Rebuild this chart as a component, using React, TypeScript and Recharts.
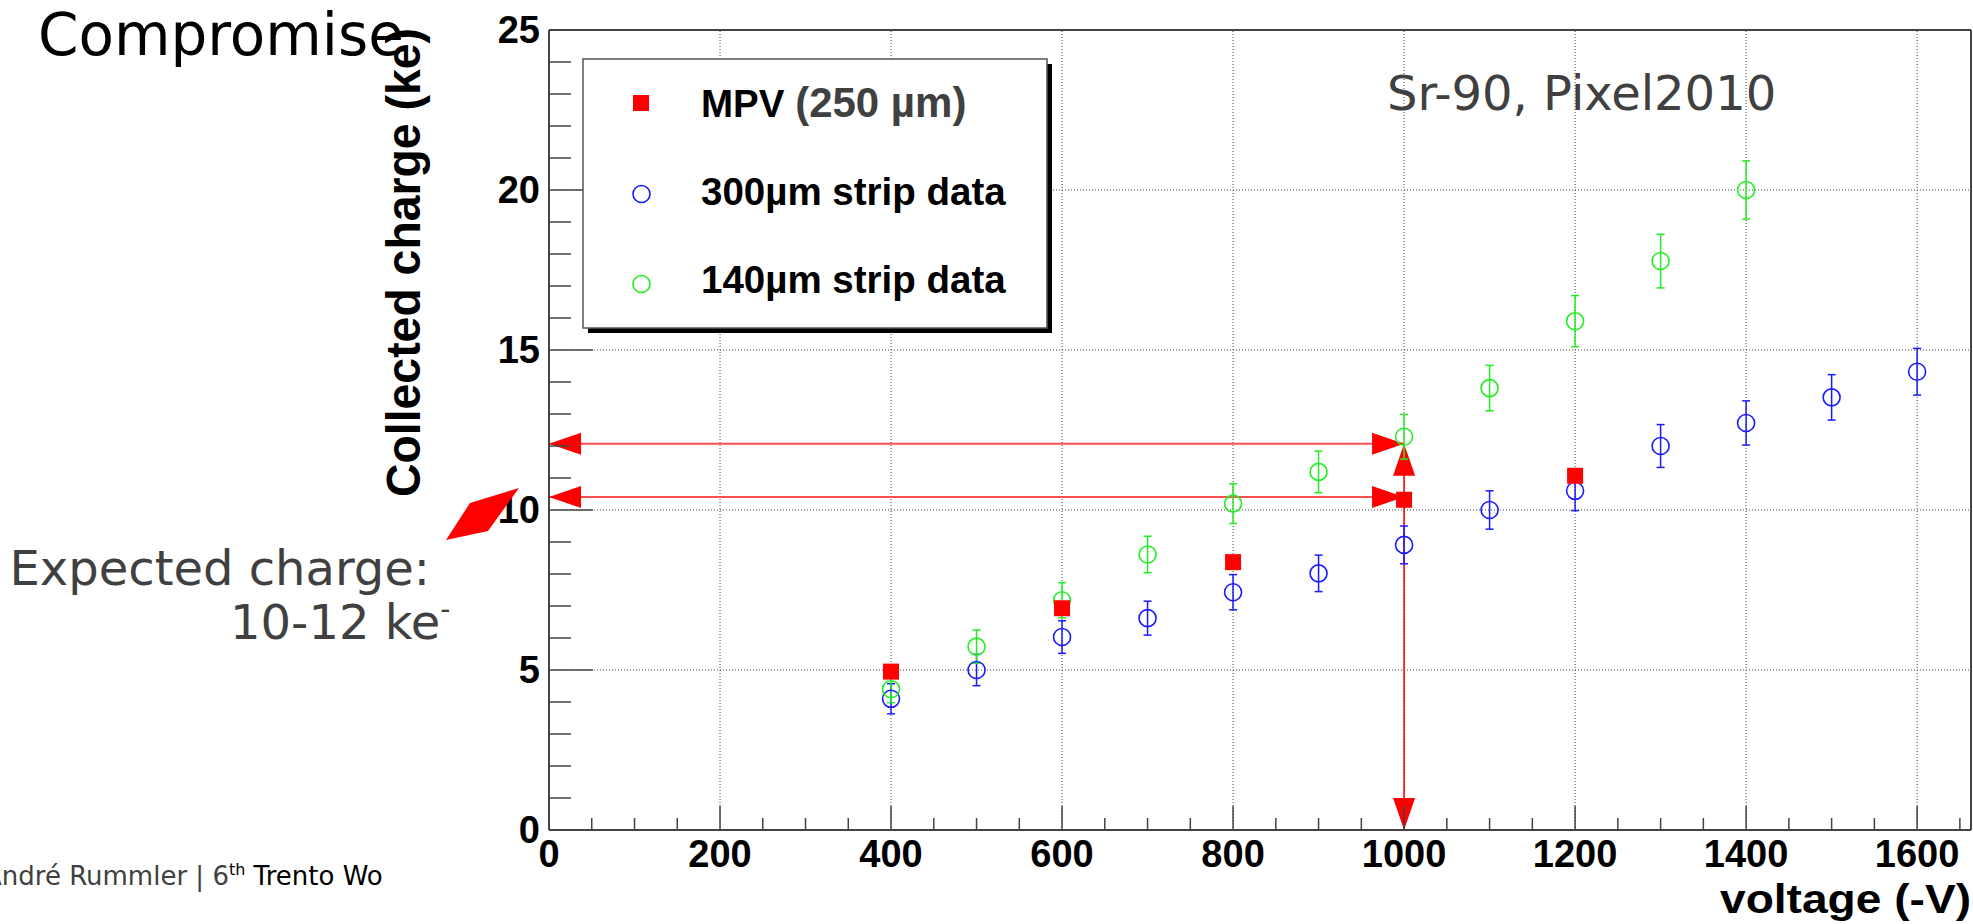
import React from "react";
import {
  ScatterChart,
  Scatter,
  XAxis,
  YAxis,
  ErrorBar,
  ReferenceLine,
} from "recharts";

// MPV from the 250 um sensor
const MPV_VOLTAGE = [400, 600, 800, 1000, 1200];
const MPV_CHARGE = [4.95, 6.93, 8.37, 10.32, 11.07];

// 300 um strip data
const STRIP300_VOLTAGE = [400, 500, 600, 700, 800, 900, 1000, 1100, 1200, 1300, 1400, 1500, 1600];
const STRIP300_CHARGE = [4.1, 5.0, 6.03, 6.62, 7.43, 8.02, 8.91, 10.0, 10.6, 12.0, 12.72, 13.52, 14.32];
const STRIP300_ERROR = [0.47, 0.49, 0.51, 0.53, 0.55, 0.57, 0.59, 0.6, 0.62, 0.67, 0.69, 0.71, 0.73];

// 140 um strip data
const STRIP140_VOLTAGE = [400, 500, 600, 700, 800, 900, 1000, 1100, 1200, 1300, 1400];
const STRIP140_CHARGE = [4.4, 5.73, 7.18, 8.61, 10.2, 11.19, 12.29, 13.81, 15.9, 17.78, 20.0];
const STRIP140_ERROR = [0.42, 0.52, 0.55, 0.57, 0.62, 0.65, 0.7, 0.71, 0.8, 0.84, 0.91];

// axes
const X_MAX = 1663;
const Y_MAX = 25;
const X_TICKS = [
  0, 50, 100, 150, 200, 250, 300, 350, 400, 450, 500, 550, 600, 650, 700, 750, 800,
  850, 900, 950, 1000, 1050, 1100, 1150, 1200, 1250, 1300, 1350, 1400, 1450, 1500,
  1550, 1600, 1650,
];
const X_LABELS = [0, 200, 400, 600, 800, 1000, 1200, 1400, 1600];
const Y_TICKS = [
  0, 1, 2, 3, 4, 5, 6, 7, 8, 9, 10, 11, 12, 13, 14, 15, 16, 17, 18, 19, 20, 21, 22, 23, 24, 25,
];
const Y_LABELS = [0, 5, 10, 15, 20, 25];
const X_GRID = [200, 400, 600, 800, 1000, 1200, 1400, 1600];
const Y_GRID = [5, 10, 15, 20];

// expected charge band arrows
const EXPECTED_LOW = 10.41;
const EXPECTED_HIGH = 12.07;
const OPERATING_VOLTAGE = 1000;

const mpvData = MPV_VOLTAGE.map((v, i) => ({ v, q: MPV_CHARGE[i] }));
const strip300Data = STRIP300_VOLTAGE.map((v, i) => ({ v, q: STRIP300_CHARGE[i], e: STRIP300_ERROR[i] }));
const strip140Data = STRIP140_VOLTAGE.map((v, i) => ({ v, q: STRIP140_CHARGE[i], e: STRIP140_ERROR[i] }));

const HELV = "'Liberation Sans', Arial, Helvetica, sans-serif";
const DEJAVU = "'DejaVu Sans', Verdana, sans-serif";
const RED = "#ff0000";
const BLUE = "#1a1aff";
const GREEN = "#22ee22";
const AXIS = "#444";

function XTick(props: any) {
  const { x, y, payload } = props;
  const major = X_LABELS.includes(payload.value);
  return (
    <g>
      <line x1={x} x2={x} y1={y} y2={y - (major ? 24 : 12)} stroke={AXIS} strokeWidth={1.5} />
      {major && (
        <text x={x} y={y + 37} textAnchor="middle" fontFamily={HELV} fontWeight="bold" fontSize={38} fill="#000">
          {payload.value}
        </text>
      )}
    </g>
  );
}

function YTick(props: any) {
  const { x, y, payload } = props;
  const major = Y_LABELS.includes(payload.value);
  return (
    <g>
      <line x1={x} x2={x + (major ? 44 : 22)} y1={y} y2={y} stroke={AXIS} strokeWidth={1.5} />
      {major && (
        <text x={x - 9} y={y + 13} textAnchor="end" fontFamily={HELV} fontWeight="bold" fontSize={38} fill="#000">
          {payload.value}
        </text>
      )}
    </g>
  );
}

function head(tx: number, ty: number, ux: number, uy: number) {
  const len = 32;
  const half = 11;
  const bx = tx - ux * len;
  const by = ty - uy * len;
  const px = -uy * half;
  const py = ux * half;
  return <polygon points={`${tx},${ty} ${bx + px},${by + py} ${bx - px},${by - py}`} fill={RED} />;
}

function makeArrow(color: string, width: number) {
  return (p: any) => {
    const { x1, y1, x2, y2 } = p;
    const d = Math.hypot(x2 - x1, y2 - y1) || 1;
    const ux = (x2 - x1) / d;
    const uy = (y2 - y1) / d;
    return (
      <g>
        <line x1={x1} y1={y1} x2={x2} y2={y2} stroke={color} strokeWidth={width} />
        {head(x1, y1, -ux, -uy)}
        {head(x2, y2, ux, uy)}
      </g>
    );
  };
}

const Square = (p: any) => <rect x={p.cx - 8} y={p.cy - 8} width={16} height={16} fill={RED} />;
const OpenCircle = (color: string) => (p: any) =>
  <circle cx={p.cx} cy={p.cy} r={8.5} fill="none" stroke={color} strokeWidth={1.6} />;

function Overlay() {
  return (
    <svg width={1973} height={924} style={{ position: "absolute", left: 0, top: 0, pointerEvents: "none" }}>
      <defs>
        <clipPath id="footclip">
          <rect x={0} y={840} width={384} height={84} />
        </clipPath>
      </defs>
      <text x={38} y={55} fontFamily={DEJAVU} fontSize={58} fill="#000">
        Compromise
      </text>
      <text
        x={420}
        y={497}
        transform="rotate(-90, 420, 497)"
        fontFamily={HELV}
        fontWeight="bold"
        fontSize={48}
        textLength={469}
        lengthAdjust="spacingAndGlyphs"
        fill="#000"
      >
        Collected charge (ke)
      </text>
      <text
        x={1720}
        y={913}
        fontFamily={HELV}
        fontWeight="bold"
        fontSize={40}
        textLength={251}
        lengthAdjust="spacingAndGlyphs"
        fill="#000"
      >
        voltage (-V)
      </text>
      <text x={1387} y={110} fontFamily={DEJAVU} fontSize={48} fill="#404040">
        Sr-90, Pixel2010
      </text>

      {/* legend */}
      <rect x={588} y={64} width={464} height={269} fill="#000" />
      <rect x={583} y={59} width={464} height={269} fill="#fff" stroke="#555" strokeWidth={1.5} />
      <rect x={633} y={95} width={16} height={16} fill={RED} />
      <circle cx={641.5} cy={194} r={8.5} fill="none" stroke={BLUE} strokeWidth={1.6} />
      <circle cx={641.5} cy={284} r={8.5} fill="none" stroke={GREEN} strokeWidth={1.6} />
      <text x={701} y={117} fontFamily={HELV} fontWeight="bold" fontSize={38.5} fill="#000">
        MPV <tspan fill="#404040" fontSize={42}>(250 µm)</tspan>
      </text>
      <text x={701} y={205} fontFamily={HELV} fontWeight="bold" fontSize={38.5} fill="#000">
        300µm strip data
      </text>
      <text x={701} y={293} fontFamily={HELV} fontWeight="bold" fontSize={38.5} fill="#000">
        140µm strip data
      </text>

      {/* expected charge note */}
      <polygon points="446,540 470,503 519,488 488,531" fill={RED} />
      <text x={430} y={585} textAnchor="end" fontFamily={DEJAVU} fontSize={48} fill="#404040">
        Expected charge:
      </text>
      <text x={230} y={639} fontFamily={DEJAVU} fontSize={48} fill="#404040">
        10-12 ke<tspan fontSize={28} dy={-20}>-</tspan>
      </text>

      {/* footer */}
      <g clipPath="url(#footclip)">
        <text x={-16} y={885} fontFamily={DEJAVU} fontSize={26} fill="#404040">
          André Rummler | 6
          <tspan fontSize={16} dy={-10} fill="#000">th</tspan>
          <tspan dy={10} fill="#000"> Trento Workshop</tspan>
        </text>
      </g>
    </svg>
  );
}

export default function App() {
  return (
    <div style={{ position: "absolute", left: 0, top: 0, width: 1973, height: 924, background: "#fff" }}>
      <ScatterChart width={1973} height={924} margin={{ top: 30, right: 2, bottom: 34, left: 0 }}>
        <XAxis
          type="number"
          dataKey="v"
          domain={[0, X_MAX]}
          ticks={X_TICKS}
          interval={0}
          tickSize={0}
          tickMargin={0}
          tickLine={false}
          tick={<XTick />}
          height={60}
          axisLine={{ stroke: AXIS, strokeWidth: 2 }}
          allowDataOverflow
        />
        <YAxis
          type="number"
          dataKey="q"
          domain={[0, Y_MAX]}
          ticks={Y_TICKS}
          interval={0}
          tickSize={0}
          tickMargin={0}
          tickLine={false}
          tick={<YTick />}
          width={549}
          axisLine={{ stroke: AXIS, strokeWidth: 2 }}
          allowDataOverflow
        />
        {X_GRID.map((v) => (
          <ReferenceLine key={`gx${v}`} x={v} stroke="#444" strokeDasharray="1 2" />
        ))}
        {Y_GRID.map((v) => (
          <ReferenceLine key={`gy${v}`} y={v} stroke="#444" strokeDasharray="1 2" />
        ))}
        <ReferenceLine y={Y_MAX} stroke={AXIS} strokeWidth={2} />
        <ReferenceLine x={X_MAX} stroke={AXIS} strokeWidth={2} />

        <ReferenceLine
          segment={[{ x: 0, y: EXPECTED_HIGH }, { x: OPERATING_VOLTAGE, y: EXPECTED_HIGH }]}
          shape={makeArrow("#ff5050", 2)}
          ifOverflow="visible"
        />
        <ReferenceLine
          segment={[{ x: 0, y: EXPECTED_LOW }, { x: OPERATING_VOLTAGE, y: EXPECTED_LOW }]}
          shape={makeArrow("#ff5050", 2)}
          ifOverflow="visible"
        />
        <ReferenceLine
          segment={[{ x: OPERATING_VOLTAGE, y: 0 }, { x: OPERATING_VOLTAGE, y: EXPECTED_HIGH }]}
          shape={makeArrow(RED, 1.5)}
          ifOverflow="visible"
        />

        <Scatter data={strip300Data} shape={OpenCircle(BLUE)} isAnimationActive={false}>
          <ErrorBar dataKey="e" direction="y" width={4} stroke={BLUE} strokeWidth={1.5} isAnimationActive={false} />
        </Scatter>
        <Scatter data={strip140Data} shape={OpenCircle(GREEN)} isAnimationActive={false}>
          <ErrorBar dataKey="e" direction="y" width={4} stroke={GREEN} strokeWidth={1.5} isAnimationActive={false} />
        </Scatter>
        <Scatter data={mpvData} shape={Square} isAnimationActive={false} />
      </ScatterChart>
      <Overlay />
    </div>
  );
}
